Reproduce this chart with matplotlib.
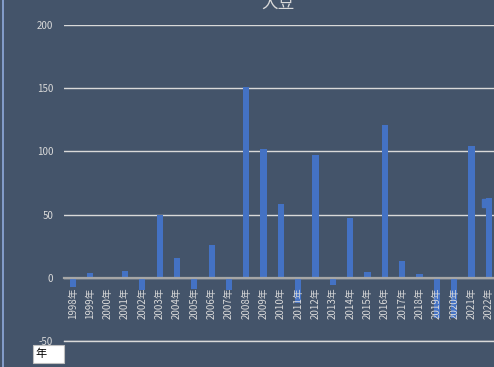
import matplotlib
matplotlib.use("Agg")
import matplotlib.pyplot as plt
from matplotlib.patches import Rectangle
from matplotlib.lines import Line2D

plt.rcParams['font.family'] = ['Noto Sans CJK JP', 'DejaVu Sans']

years = [f"{y}年" for y in range(1998, 2023)]
values = [-7, 4, 1, 5, -10, 50, 15.5, -9, 26, -9.5, 151, 102, 58.5, -20, 97,
          -6, 47, 4.5, 121, 13, 3, -32, -32, 104.5, 63]
extra_label = "2022年"
extra_value = 59
yticks = [-50, 0, 50, 100, 150, 200]
title = "大豆"
field_button = "年"

bg = '#44546A'
bar_color = '#4472C4'
text_color = '#D9D9D9'

W, H = 494, 367
fig = plt.figure(figsize=(W / 100, H / 100), dpi=100, facecolor=bg)

left = 64.3 / W
right = 497.6 / W
bottom = (H - 341) / H
top = (H - 25) / H
ax = fig.add_axes([left, bottom, right - left, top - bottom])
ax.set_facecolor(bg)

for name in ('top', 'right', 'left'):
    ax.spines[name].set_visible(False)
ax.spines['bottom'].set_position(('data', 0))
ax.spines['bottom'].set_color('#A6A6A6')
ax.spines['bottom'].set_linewidth(1.6)
ax.spines['bottom'].set_zorder(2.5)

x = list(range(len(years)))
ax.bar(x, values, width=0.36, color=bar_color, zorder=2)
ex_idx = years.index(extra_label)
ax.plot([ex_idx - 0.15], [extra_value], marker='s', markersize=6,
        color=bar_color, linestyle='none', zorder=3)

ax.set_xlim(-0.5, len(years) - 0.5)
ax.set_ylim(-50, 200)
ax.set_yticks(yticks)
ax.set_yticklabels([str(t) for t in yticks])
ax.set_xticks(x)
ax.set_xticklabels(years, rotation=90, va='top', ha='center')
ax.tick_params(axis='both', length=0, colors=text_color, labelsize=7)
ax.tick_params(axis='y', pad=8)
ax.tick_params(axis='x', pad=7)

ax.yaxis.grid(True, color='#D9D9D9', linewidth=1)
ax.set_axisbelow(True)
ax.xaxis.set_zorder(3)
ax.axhline(-50, color='#D9D9D9', linewidth=1, zorder=0.5, clip_on=False)

fig.text(278 / W, 1 - 3 / H, title, ha='center', va='center',
         fontsize=12, color=text_color)

# Left border of chart area
fig.add_artist(Line2D([2.5 / W, 2.5 / W], [0, 1], color='#8FAADC',
                      linewidth=1.2, transform=fig.transFigure))

# Field button
fig.add_artist(Rectangle((33 / W, (H - 363) / H), 31 / W, 18 / H,
                         transform=fig.transFigure, facecolor='white',
                         edgecolor='#BFBFBF', linewidth=0.8))
fig.text(35 / W, (H - 354) / H, field_button, ha='left', va='center',
         fontsize=8, color='black')

fig.savefig("out.png", dpi=100, facecolor=bg)
